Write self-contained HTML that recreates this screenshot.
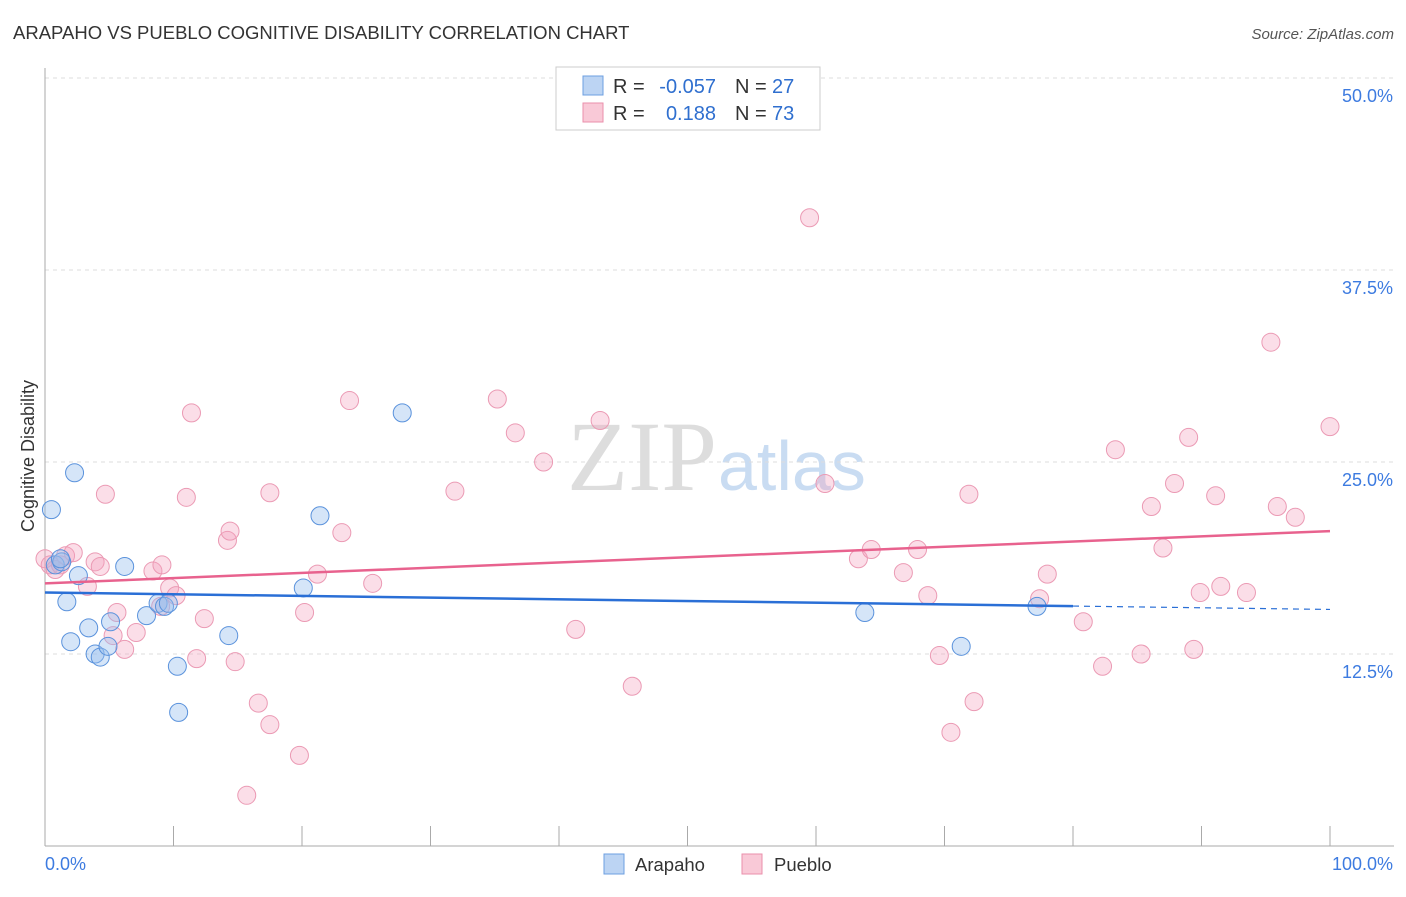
<!DOCTYPE html>
<html><head><meta charset="utf-8"><style>
body{margin:0;background:#fff;font-family:"Liberation Sans",sans-serif}
</style></head><body>
<svg width="1406" height="892" xmlns="http://www.w3.org/2000/svg" font-family="Liberation Sans, sans-serif">
<text x="13" y="39" font-size="18.5" fill="#333">ARAPAHO VS PUEBLO COGNITIVE DISABILITY CORRELATION CHART</text>
<text x="1394" y="39" font-size="15" fill="#555" text-anchor="end" font-style="italic">Source: ZipAtlas.com</text>
<text x="717" y="490" font-size="100" fill="#ddd" text-anchor="end" font-family="Liberation Serif, serif">ZIP</text>
<text x="718" y="490" font-size="70" fill="#c9dcf2">atlas</text>
<g id="grid"></g><g id="axes"></g><g id="marks"></g>
<text transform="translate(34,456) rotate(-90)" font-size="18" fill="#333" text-anchor="middle">Cognitive Disability</text>
<g font-size="20">
<rect x="556" y="67" width="264" height="63" fill="#fff" stroke="#ccc"/>
<rect x="583" y="76" width="20" height="19" fill="#bcd4f3" stroke="#6d9fe0"/>
<rect x="583" y="103" width="20" height="19" fill="#f9c9d7" stroke="#ea8fab"/>
<text x="613" y="93" fill="#333">R =</text>
<text x="716" y="93" fill="#2f6fcf" text-anchor="end">-0.057</text>
<text x="735" y="93" fill="#333">N =</text>
<text x="772" y="93" fill="#2f6fcf">27</text>
<text x="613" y="120" fill="#333">R =</text>
<text x="716" y="120" fill="#2f6fcf" text-anchor="end">0.188</text>
<text x="735" y="120" fill="#333">N =</text>
<text x="772" y="120" fill="#2f6fcf">73</text>
</g>
<g>
<rect x="604" y="854" width="20" height="20" fill="#bcd4f3" stroke="#6d9fe0"/>
<text x="635" y="871" font-size="18.5" fill="#333">Arapaho</text>
<rect x="742" y="854" width="20" height="20" fill="#f9c9d7" stroke="#ea8fab"/>
<text x="774" y="871" font-size="18.5" fill="#333">Pueblo</text>
</g>
</svg>
<script>
const yTicks=[12.5,25,37.5,50];
const yTickLabels=["12.5%","25.0%","37.5%","50.0%"];
const xTickLabels=["0.0%","100.0%"];
const arapahoX=[0.5,2.3,0.8,1.3,1.2,2.6,1.7,2.0,3.4,3.9,4.3,4.9,5.1,6.2,7.9,8.8,9.3,9.6,10.3,10.4,14.3,20.1,21.4,27.8,63.8,71.3,77.2];
const arapahoY=[21.9,24.3,18.3,18.5,18.7,17.6,15.9,13.3,14.2,12.5,12.3,13.0,14.6,18.2,15.0,15.8,15.6,15.8,11.7,8.7,13.7,16.8,21.5,28.2,15.2,13.0,15.6];
const puebloX=[0.0,0.4,0.8,1.2,1.6,2.2,3.3,3.9,4.3,4.7,5.3,5.6,6.2,7.1,8.4,9.1,9.0,9.7,10.2,11.0,11.4,11.8,12.4,14.2,14.4,14.8,16.6,17.5,17.5,19.8,20.2,21.2,23.1,23.7,25.5,31.9,35.2,36.6,38.8,41.3,43.2,45.7,59.5,60.7,63.3,64.3,66.8,67.9,68.7,69.6,70.5,71.9,72.3,77.4,78.0,80.8,82.3,83.3,85.3,86.1,87.0,87.9,89.0,89.4,89.9,91.1,91.5,93.5,95.4,95.9,97.3,100.0,15.7];
const puebloY=[18.7,18.3,18.0,18.3,18.9,19.1,16.9,18.5,18.2,22.9,13.7,15.2,12.8,13.9,17.9,18.3,15.6,16.8,16.3,22.7,28.2,12.2,14.8,19.9,20.5,12.0,9.3,7.9,23.0,5.9,15.2,17.7,20.4,29.0,17.1,23.1,29.1,26.9,25.0,14.1,27.7,10.4,40.9,23.6,18.7,19.3,17.8,19.3,16.3,12.4,7.4,22.9,9.4,16.1,17.7,14.6,11.7,25.8,12.5,22.1,19.4,23.6,26.6,12.8,16.5,22.8,16.9,16.5,32.8,22.1,21.4,27.3,3.3];
const arapahoTrend=[16.5,15.4];
const puebloTrend=[17.1,20.5];
const NS="http://www.w3.org/2000/svg";
const X=v=>45+v*12.85, Y=v=>846-v*15.36;
function mk(t,a,p){const e=document.createElementNS(NS,t);for(const k in a)e.setAttribute(k,a[k]);p.appendChild(e);return e;}
const grid=document.getElementById('grid'),axes=document.getElementById('axes'),marks=document.getElementById('marks');
yTicks.forEach((t,i)=>{
 const l=mk('line',{x1:45,x2:1394,y1:Y(t),y2:Y(t),stroke:'#ddd','stroke-dasharray':'4,4'},grid);
 
 
 const tx=mk('text',{x:1393,y:Y(t)+24,'font-size':18,fill:'#3d7be0','text-anchor':'end'},axes);
 tx.textContent=yTickLabels[i];
 
 
});
mk('line',{x1:45,x2:45,y1:68,y2:846,stroke:'#aaa'},axes);
mk('line',{x1:45,x2:1394,y1:846,y2:846,stroke:'#aaa'},axes);
for(let i=0;i<=10;i++){const t=mk('line',{x1:X(i*10),x2:X(i*10),y1:826,y2:846,stroke:'#aaa'},axes);
 
 }
xTickLabels.forEach((s,i)=>{const t=mk('text',{x:i?1393:45,y:870,'font-size':18,fill:'#3d7be0','text-anchor':i?'end':'start'},axes);t.textContent=s;
 
 });
puebloX.forEach((x,i)=>{const c=mk('circle',{cx:X(x),cy:Y(puebloY[i]),r:9,fill:'rgba(244,160,188,0.35)',stroke:'#eb9ab4','stroke-width':1},marks);
 
 });
arapahoX.forEach((x,i)=>{const c=mk('circle',{cx:X(x),cy:Y(arapahoY[i]),r:9,fill:'rgba(150,190,238,0.4)',stroke:'#5a92dc','stroke-width':1},marks);
 
 });
const bx=80,ay=v=>arapahoTrend[0]+(arapahoTrend[1]-arapahoTrend[0])*v/100;
const l1=mk('line',{x1:X(0),y1:Y(ay(0)),x2:X(bx),y2:Y(ay(bx)),stroke:'#2a6fd6','stroke-width':2.5},marks);


const l2=mk('line',{x1:X(bx),y1:Y(ay(bx)),x2:X(100),y2:Y(ay(100)),stroke:'#2a6fd6','stroke-width':1.2,'stroke-dasharray':'6,5'},marks);


const l3=mk('line',{x1:X(0),y1:Y(puebloTrend[0]),x2:X(100),y2:Y(puebloTrend[1]),stroke:'#e8628e','stroke-width':2.5},marks);


</script>
</body></html>
